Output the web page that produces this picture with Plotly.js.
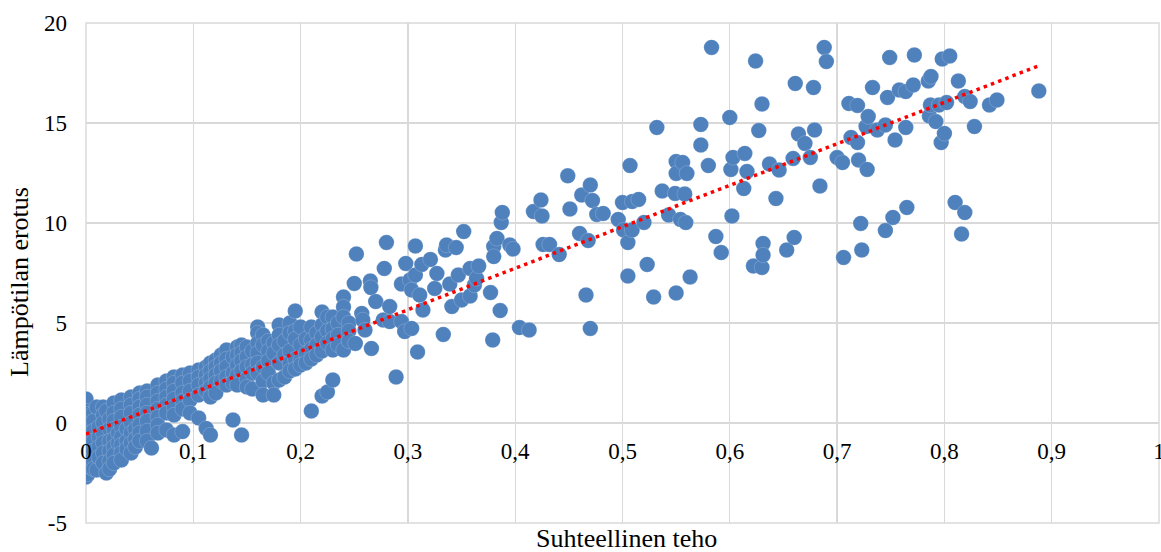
<!DOCTYPE html>
<html>
<head>
<meta charset="utf-8">
<script src="https://cdn.plot.ly/plotly-3.0.1.min.js"></script>
<style>html,body{margin:0;padding:0;background:#fff;}#chart{width:1161px;height:552px;}</style>
</head>
<body>
<div id="chart"></div>
<script>
// ---- Data: low range (Suhteellinen teho < 0.25) ----
const lowX = [
0,0,0,0,0,0,0,0,0,0,0,0,0,
0.002,0.002,0.002,0.002,0.002,0.002,
0.004,0.004,0.004,0.004,
0.007,0.007,0.007,0.007,0.007,0.007,0.007,
0.010,0.010,
0.012,0.012,0.012,0.012,
0.016,0.016,0.016,0.016,0.016,0.016,0.016,
0.019,0.019,
0.022,0.022,0.022,0.022,0.022,0.022,
0.026,0.026,0.026,0.026,0.026,0.026,0.026,0.026,
0.030,0.030,
0.033,0.033,0.033,0.033,0.033,0.033,0.033,0.033,
0.038,0.038,0.038,
0.042,0.042,0.042,0.042,0.042,0.042,0.042,
0.046,0.046,0.046,
0.05,0.05,0.05,0.05,0.05,0.05,0.05,
0.057,0.057,0.057,0.057,0.057,0.057,0.057,
0.061,
0.067,0.067,0.067,0.067,0.067,0.067,0.067,
0.075,0.075,0.075,0.075,0.075,0.075,
0.082,0.082,0.082,0.082,0.082,0.082,0.082,
0.09,0.09,0.09,0.09,0.09,0.09,
0.097,0.097,0.097,0.097,0.097,
0.105,0.105,0.105,0.105,0.105,
0.112,0.112,0.112,0.112,0.112,
0.116,0.116,0.116,0.116,0.116,0.116,
0.121,0.121,0.121,0.121,0.121,
0.126,0.126,0.126,0.126,
0.131,0.131,0.131,0.131,0.131,
0.137,0.137,0.137,0.137,
0.141,0.141,0.141,0.141,0.141,
0.145,0.145,0.145,0.145,0.145,
0.15,0.15,0.15,0.15,0.15,
0.155,0.155,0.155,0.155,
0.16,0.16,0.16,0.16,0.16,0.16,
0.165,0.165,0.165,0.165,0.165,
0.17,0.17,0.17,0.17,
0.175,0.175,0.175,0.175,
0.18,0.18,0.18,0.18,0.18,
0.185,0.185,0.185,
0.19,0.19,0.19,0.19,0.19,
0.195,0.195,0.195,0.195,0.195,
0.2,0.2,0.2,0.2,
0.205,0.205,0.205,
0.21,0.21,0.21,0.21,0.21,
0.215,0.215,0.215,
0.22,0.22,0.22,0.22,0.22,
0.225,0.225,0.225,0.225,
0.23,0.23,0.23,0.23,0.23,
0.235,0.235,0.235,
0.24,0.24,0.24,0.24,
0.245,0.245,0.245
];
const lowY = [
1.2,0.6,0.3,0.0,-0.3,-0.6,-0.9,-1.2,-1.5,-1.8,-2.1,-2.4,-2.7,
0.45,-0.15,-0.75,-1.35,-1.95,-2.55,
-0.5,-1.0,-1.6,-2.2,
0.5,0.1,-0.4,-0.9,-1.4,-1.9,-2.3,
0.8,-2.35,
-0.2,-0.7,-1.2,-1.7,
0.8,0.4,0.0,-0.5,-1.0,-1.5,-2.0,
0.6,-2.5,
0.2,-0.3,-0.9,-1.4,-1.9,-2.3,
1.0,0.5,0.1,-0.3,-0.8,-1.2,-1.6,-2.0,
-0.5,-1.0,
1.15,0.7,0.3,-0.2,-0.7,-1.1,-1.5,-1.85,
-0.3,-0.9,-1.3,
1.3,0.9,0.5,0.0,-0.5,-1.0,-1.5,
-0.3,-0.8,-1.2,
1.5,1.2,0.8,0.4,-0.1,-0.5,-0.9,
1.6,1.3,0.9,0.5,0.1,-0.4,-0.9,
-1.25,
1.9,1.5,1.1,0.7,0.3,-0.1,-0.5,
2.1,1.7,1.3,0.9,0.5,-0.35,
2.3,2.0,1.6,1.2,0.8,0.4,-0.6,
2.4,2.0,1.5,1.1,0.7,-0.43,
2.5,2.1,1.6,1.15,0.5,
2.65,2.3,1.9,1.4,0.25,
2.8,2.4,2.0,1.6,-0.27,
3.0,2.6,2.2,1.8,1.3,-0.6,
3.15,2.8,2.4,2.0,1.5,
3.4,3.0,2.6,2.1,
3.65,3.2,2.8,2.3,1.9,
3.3,2.5,2.0,0.15,
3.8,3.4,2.9,2.4,1.9,
3.9,3.5,3.1,2.6,-0.6,
3.8,3.3,2.8,2.2,1.8,
3.6,2.9,2.5,1.7,
4.8,4.5,4.0,3.5,3.0,2.5,
4.4,3.9,2.8,2.1,1.4,
4.1,3.6,3.1,2.5,
4.0,3.5,2.0,1.4,
4.9,4.4,3.9,3.0,2.15,
4.1,3.4,2.3,
5.0,4.5,3.6,3.0,2.6,
5.6,4.6,4.2,3.2,2.7,
4.8,3.9,3.15,2.9,
4.2,3.5,3.0,
4.8,4.15,3.7,3.2,0.6,
4.5,3.9,3.4,
5.55,4.9,4.3,3.6,1.35,
5.3,4.6,4.0,1.55,
5.3,4.7,4.2,3.65,2.15,
5.0,4.4,3.9,
6.3,5.8,5.3,3.65,
5.0,4.6,4.1
];

// ---- Data: middle range (0.25 ... 0.5) ----
const midX = [0.250,0.252,0.251,0.257,0.258,0.260,0.265,0.2655,0.266,0.270,0.277,0.278,0.280,0.283,0.283,0.289,0.294,0.294,0.297,0.298,0.302,0.3035,0.3035,0.307,0.307,0.309,0.311,0.313,0.314,0.321,0.325,0.327,0.333,0.335,0.336,0.339,0.341,0.345,0.347,0.350,0.352,0.358,0.358,0.362,0.364,0.366,0.377,0.379,0.380,0.380,0.383,0.386,0.387,0.388,0.395,0.398,0.404,0.413,0.417,0.424,0.425,0.426,0.432,0.441,0.449,0.451,0.460,0.462,0.466,0.468,0.470,0.470,0.472,0.476,0.482,0.496,0.500];
const midY = [6.98,8.45,3.98,5.48,5.15,4.65,7.1,6.77,3.73,6.07,5.15,7.73,9.03,5.07,5.82,2.3,6.95,5.07,4.57,7.98,7.15,6.65,4.73,8.85,7.4,3.55,6.4,7.93,5.65,8.18,6.73,7.48,4.43,8.65,8.9,6.95,5.82,8.77,7.4,6.15,9.57,7.73,6.35,6.9,7.23,7.85,6.52,4.15,8.82,8.32,9.23,5.62,10.02,10.53,8.9,8.7,4.77,4.65,10.57,11.15,10.35,8.93,8.93,8.42,12.36,10.7,9.48,11.4,6.4,9.12,11.9,4.73,11.12,10.43,10.48,10.18,11.02];

// ---- Data: high range (> 0.5) ----
const highX = [0.501,0.505,0.505,0.507,0.509,0.509,0.515,0.520,0.523,0.529,0.532,0.537,0.543,0.549,0.550,0.550,0.550,0.554,0.556,0.558,0.559,0.560,0.563,0.573,0.573,0.580,0.583,0.587,0.592,0.600,0.601,0.602,0.603,0.613,0.614,0.616,0.622,0.624,0.627,0.630,0.630,0.631,0.631,0.637,0.643,0.646,0.653,0.659,0.660,0.661,0.664,0.670,0.675,0.678,0.679,0.684,0.688,0.690,0.700,0.705,0.706,0.711,0.713,0.719,0.719,0.720,0.722,0.723,0.727,0.728,0.729,0.733,0.7375,0.745,0.745,0.747,0.749,0.752,0.754,0.758,0.764,0.764,0.765,0.771,0.772,0.785,0.7875,0.786,0.787,0.792,0.795,0.797,0.798,0.800,0.802,0.805,0.810,0.813,0.816,0.819,0.819,0.824,0.828,0.842,0.849,0.888];
const highY = [9.65,9.02,7.35,12.87,9.65,11.07,11.18,10.03,7.93,6.3,14.78,11.6,10.4,11.48,13.07,12.48,6.5,10.18,13.03,11.45,10.02,12.48,7.3,14.93,13.9,12.87,18.78,9.32,8.52,15.28,12.68,10.35,13.28,11.72,13.48,12.58,7.85,18.1,14.62,15.95,7.78,8.98,8.4,12.95,11.22,12.65,8.65,13.23,9.28,16.98,14.45,13.98,13.28,16.77,14.65,11.85,18.78,18.07,13.27,13.02,8.28,15.98,14.28,15.88,14.02,13.15,9.98,8.65,14.82,12.68,15.32,16.77,14.65,14.9,9.62,16.28,18.28,10.28,14.15,16.65,16.57,14.78,10.78,16.9,18.4,17.1,17.32,15.35,15.9,15.07,15.9,14.02,18.2,14.48,16.02,18.35,11.03,17.1,9.45,16.32,10.52,16.07,14.82,15.9,16.15,16.6];

// ---- Axis ticks and titles ----
const xTickVals = [0,0.1,0.2,0.3,0.4,0.5,0.6,0.7,0.8,0.9,1];
const xTickText = ['0','0,1','0,2','0,3','0,4','0,5','0,6','0,7','0,8','0,9','1'];
const yTickVals = [-5,0,5,10,15,20];
const yTickText = ['-5','0','5','10','15','20'];
const xTitle = 'Suhteellinen teho';
const yTitle = 'Lämpötilan erotus';

const allX = lowX.concat(midX, highX);
const allY = lowY.concat(midY, highY);

// linear least-squares trendline (as in the spreadsheet)
function linReg(xs, ys) {
  const n = xs.length;
  let sx=0, sy=0, sxx=0, sxy=0;
  for (let i=0;i<n;i++){ sx+=xs[i]; sy+=ys[i]; sxx+=xs[i]*xs[i]; sxy+=xs[i]*ys[i]; }
  const b = (n*sxy - sx*sy)/(n*sxx - sx*sx);
  const a = (sy - b*sx)/n;
  return {a, b};
}
const fit = linReg(allX, allY);
const tx = [Math.min(...allX), Math.max(...allX)];
const ty = tx.map(v => fit.a + fit.b*v);

const serif = '"Liberation Serif", "Times New Roman", Times, serif';

const traces = [
  {
    type: 'scatter', mode: 'markers', x: allX, y: allY,
    marker: {size: 15.5, color: '#4F81BD', line: {color: 'rgba(255,255,255,0.3)', width: 0.6}},
    hoverinfo: 'skip', showlegend: false
  },
  {
    type: 'scatter', mode: 'lines', x: tx, y: ty,
    line: {color: '#FF0000', width: 3.5, dash: '3.5px,4.2px'},
    hoverinfo: 'skip', showlegend: false
  }
];

const layout = {
  width: 1161, height: 552,
  margin: {l: 86, r: 2, t: 23, b: 29, pad: 0},
  paper_bgcolor: '#fff', plot_bgcolor: '#fff',
  showlegend: false,
  font: {family: serif, color: '#000'},
  xaxis: {
    range: [0, 1], tickmode: 'array', tickvals: xTickVals, ticktext: xTickText,
    showgrid: true, gridcolor: '#D9D9D9', gridwidth: 1.4,
    zeroline: false, showline: false, ticks: '',
    anchor: 'free', position: 0.2,
    ticklabelstandoff: 12, ticklabeloverflow: 'allow',
    tickfont: {family: serif, size: 23, color: '#000'}
  },
  yaxis: {
    range: [-5, 20], tickmode: 'array', tickvals: yTickVals, ticktext: yTickText,
    showgrid: true, gridcolor: '#D9D9D9', gridwidth: 1.4,
    zeroline: false, showline: false, ticks: '',
    ticklabelstandoff: 18,
    tickfont: {family: serif, size: 23, color: '#000'}
  },
  shapes: [{
    type: 'rect', xref: 'paper', yref: 'paper', x0: 0, x1: 1, y0: 0, y1: 1,
    line: {color: '#D9D9D9', width: 1.4}, layer: 'below'
  }],
  annotations: [
    {text: xTitle, xref: 'paper', yref: 'paper', x: 0.504, y: -0.03,
     xanchor: 'center', yanchor: 'middle', showarrow: false,
     font: {family: serif, size: 26, color: '#000'}},
    {text: yTitle, xref: 'paper', yref: 'paper', x: -0.0625, y: 0.482,
     xanchor: 'center', yanchor: 'middle', showarrow: false, textangle: -90,
     font: {family: serif, size: 26, color: '#000'}}
  ]
};

Plotly.newPlot('chart', traces, layout, {staticPlot: true, displayModeBar: false});
</script>
</body>
</html>
